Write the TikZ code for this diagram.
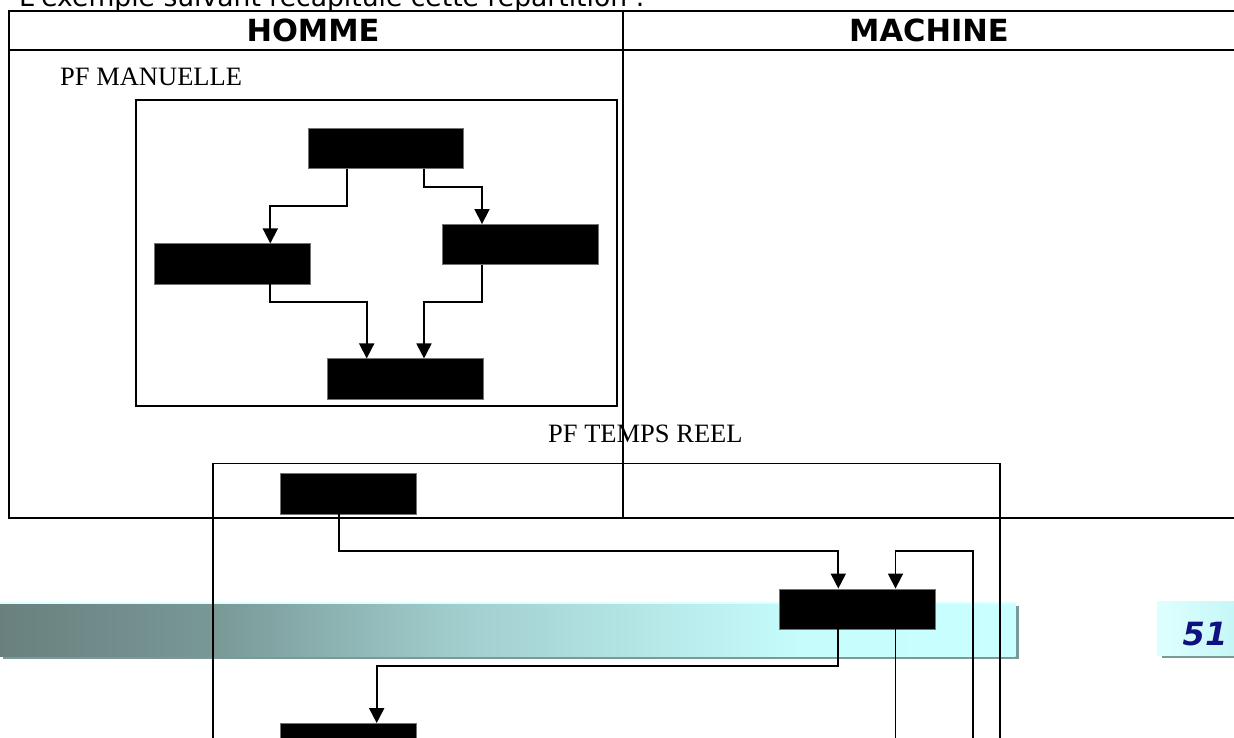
\documentclass[tikz,border=0pt]{standalone}
\usepackage{fontspec}
\setmainfont{Liberation Serif}
\newfontfamily\verd{DejaVu Sans}
\usetikzlibrary{arrows.meta}
\definecolor{gA}{RGB}{105,128,127}
\definecolor{gB}{RGB}{120,152,150}
\definecolor{gC}{RGB}{160,204,204}
\definecolor{gD}{RGB}{198,252,252}
\definecolor{gE}{RGB}{202,255,255}
\definecolor{hl}{RGB}{222,255,255}
\definecolor{shd}{RGB}{122,154,152}
\definecolor{pgL}{RGB}{222,255,255}
\definecolor{pgR}{RGB}{196,246,246}
\definecolor{numc}{RGB}{16,16,128}
\begin{document}
\begin{tikzpicture}[x=1pt,y=-1pt,
  blk/.style={fill=black,draw=black!55,line width=0.5pt,inner sep=0pt,minimum width=155.5pt,minimum height=40.4pt},
  blks/.style={blk,minimum width=136.5pt,minimum height=41pt},
  frame/.style={line width=1.8pt,draw=black},
  tabl/.style={line width=2.4pt,draw=black},
  conn/.style={line width=1.8pt,-{Triangle[length=15pt,width=15pt]}},
  wire/.style={line width=1.8pt},
  serlab/.style={font=\fontsize{26.5}{26.5}\selectfont,anchor=base west,inner sep=0pt},
  head/.style={font=\verd\bfseries\fontsize{30.5}{30.5}\selectfont,anchor=base,inner sep=0pt}]
\useasboundingbox (0,0) rectangle (1234,737);
\fill[white] (0,0) rectangle (1234,737);

% footer bar
\fill[shd] (3,606) rectangle (1019,658.5);
\fill[hl] (0,601.7) rectangle (1015.7,604);
\shade[left color=gA,right color=gB] (0,604) rectangle (213.5,656);
\shade[left color=gB,right color=gC] (213,604) rectangle (450.5,656);
\shade[left color=gC,right color=gD] (450,604) rectangle (800.5,656);
\shade[left color=gD,right color=gE] (800,604) rectangle (1015.7,656);

% page number box
\fill[shd] (1161.7,605) rectangle (1240,658.3);
\shade[left color=pgL,right color=pgR] (1157.3,601.7) rectangle (1240,655.7);
\node[font=\verd\bfseries\itshape\fontsize{32}{32}\selectfont,text=numc,anchor=base,inner sep=0pt] (pnum) at (1205,645.7) {51};

% top sentence (cut by the page edge, as in the reference)
\node[font=\verd\fontsize{26.6}{26.6}\selectfont,anchor=base west,inner sep=0pt] (intro) at (19,6.5) {L'exemple suivant récapitule cette répartition :};

% table
\draw[tabl] (9,11) rectangle (1237,517.7);
\draw[tabl] (9,50) -- (1237,50);
\draw[tabl] (622.7,11) -- (622.7,517.7);
\node[head] (homme) at (313,41.7) {HOMME};
\node[head] (machine) at (929,41.7) {MACHINE};

% PF MANUELLE
\node[serlab] (lman) at (60,85) {PF MANUELLE};
\draw[frame] (135.7,100) rectangle (616.7,406);
\node[blk] (T1) at (385.8,148.5) {};
\node[blk] (L1) at (232.2,263.9) {};
\node[blk] (R1) at (520.3,244.5) {};
\node[blk] (B1) at (405,378.9) {};
\coordinate (y1) at (0,206);
\coordinate (y2) at (0,187);
\coordinate (y3) at (0,301.7);
\coordinate (s1) at ([xshift=-38.5pt]T1.south);
\coordinate (e1) at ([xshift=38.1pt]L1.north);
\coordinate (s2) at ([xshift=37.9pt]T1.south);
\coordinate (e2) at ([xshift=-38.3pt]R1.north);
\coordinate (s3) at ([xshift=37.8pt]L1.south);
\coordinate (e3) at ([xshift=-38.3pt]B1.north);
\coordinate (s4) at ([xshift=-38.3pt]R1.south);
\coordinate (e4) at ([xshift=19pt]B1.north);
\draw[conn] (s1) -- (s1 |- y1) -- (e1 |- y1) -- (e1);
\draw[conn] (s2) -- (s2 |- y2) -- (e2 |- y2) -- (e2);
\draw[conn] (s3) -- (s3 |- y3) -- (e3 |- y3) -- (e3);
\draw[conn] (s4) -- (s4 |- y3) -- (e4 |- y3) -- (e4);

% PF TEMPS REEL
\node[serlab] (ltr) at (548,442) {PF TEMPS REEL};
\draw[frame] (213,463.5) rectangle (1000.3,800);
\node[blks] (A) at (348.3,493.5) {};
\node[blk] (B) at (857.2,609) {};
\node[blks] (C) at (348.3,743.8) {};
\coordinate (z1) at (0,551);
\coordinate (z2) at (0,666);
\coordinate (ta) at ([xshift=-9.7pt]A.south);
\coordinate (tb1) at ([xshift=-18.9pt]B.north);
\coordinate (tb2) at ([xshift=38.3pt]B.north);
\coordinate (bb1) at ([xshift=-18.9pt]B.south);
\coordinate (bb2) at ([xshift=38.3pt]B.south);
\coordinate (tc) at ([xshift=28.4pt]C.north);
\coordinate (fr) at (972.7,760);
\coordinate (fb) at (bb2 |- fr);
\draw[conn] (ta) -- (ta |- z1) -- (tb1 |- z1) -- (tb1);
\draw[conn] (fr) -- (fr |- z1) -- (tb2 |- z1) -- (tb2);
\draw[conn] (bb1) -- (bb1 |- z2) -- (tc |- z2) -- (tc);
\draw[wire] (bb2) -- (fb);
\end{tikzpicture}
\end{document}
